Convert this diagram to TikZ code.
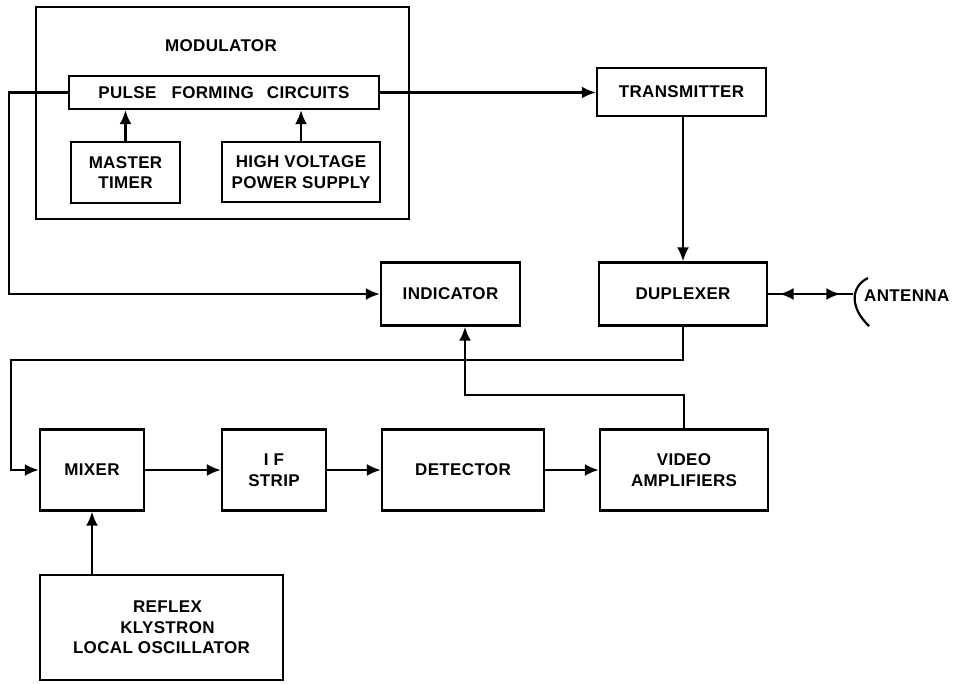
\documentclass[tikz,border=0pt]{standalone}
\usepackage{fontspec}
\setmainfont{Liberation Sans}[LetterSpace=2]
\usetikzlibrary{positioning,arrows.meta,decorations.markings}

\begin{document}
\begin{tikzpicture}[
    x=1pt, y=-1pt,
    font=\bfseries\fontsize{17}{20.5}\selectfont,
    block/.style={
        rectangle,
        draw=black,
        line width=2.4pt,
        align=center,
        inner sep=2pt
    },
    wire/.style={line width=2.2pt, black},
    arrow/.style={-{Latex[length=14pt,width=12pt]}, line width=2.2pt, black}
]
\useasboundingbox (0,0) rectangle (957,683);

\node[block, minimum width=373pt, minimum height=212pt] (Modulator) at (222.5,113) {};
\node (ModLabel) at (221,46) {MODULATOR};
\node[block, minimum width=310pt, minimum height=33pt] (PFC) at (224,92.5) {PULSE\hspace{10pt} FORMING\hspace{8pt} CIRCUITS};
\node[block, minimum width=109pt, minimum height=61pt] (Timer) at (125.5,172.5) {MASTER\\TIMER};
\node[block, minimum width=158pt, minimum height=60pt] (HVSupply) at (301,172) {HIGH VOLTAGE\\POWER SUPPLY};
\node[block, minimum width=169pt, minimum height=48pt] (Transmitter) at (681.5,92) {TRANSMITTER};
\node[block, minimum width=139pt, minimum height=63pt] (Indicator) at (450.5,294) {INDICATOR};
\node[block, minimum width=168pt, minimum height=63pt] (Duplexer) at (683,294) {DUPLEXER};
\node[block, minimum width=104pt, minimum height=81pt] (Mixer) at (92,470) {MIXER};
\node[block, minimum width=104pt, minimum height=81pt] (IFStrip) at (274,470) {I F\\STRIP};
\node[block, minimum width=162pt, minimum height=81pt] (Detector) at (463,470) {DETECTOR};
\node[block, minimum width=168pt, minimum height=81pt] (Video) at (684,470) {VIDEO\\AMPLIFIERS};
\node[block, minimum width=243pt, minimum height=105pt] (Klystron) at (161.5,627.5) {\hspace*{12pt}REFLEX\\\hspace*{12pt}KLYSTRON\\LOCAL OSCILLATOR};
\node[anchor=west, inner sep=0pt] (AntLabel) at (864,296) {ANTENNA};

\coordinate (ant) at (853,294);
\coordinate (rxTurn) at (11,360);
\coordinate (vidTurn) at (465,395);

% modulator
\draw[arrow] (Timer.north) -- (Timer.north |- PFC.south);
\draw[arrow] (HVSupply.north) -- (HVSupply.north |- PFC.south);
\draw[arrow] (PFC.east) -- (PFC.east -| Transmitter.west);
\draw[arrow] (PFC.west) -- ++(-59,0) |- (Indicator.west);

% transmit / receive
\draw[arrow] (Transmitter.south -| Duplexer.north) -- (Duplexer.north);
\draw[wire, postaction={decorate}, decoration={markings,
    mark=at position 0.3 with {\arrow{Latex[length=14pt,width=12pt,reversed]}},
    mark=at position 0.85 with {\arrow{Latex[length=14pt,width=12pt]}}}]
    (Duplexer.east) -- (Duplexer.east -| ant);
\draw[wire] ([shift={(15,-16)}]ant) .. controls ([shift={(-3,-7)}]ant) and ([shift={(-3,14)}]ant) .. ([shift={(16,32)}]ant);
\draw[arrow] (Duplexer.south) |- (rxTurn) |- (Mixer.west);

% receiver chain
\draw[arrow] (Mixer.east) -- (IFStrip.west);
\draw[arrow] (IFStrip.east) -- (Detector.west);
\draw[arrow] (Detector.east) -- (Video.west);
\draw[arrow] (Klystron.north -| Mixer.south) -- (Mixer.south);
\draw[arrow] (Video.north) |- (vidTurn) -- (vidTurn |- Indicator.south);
\end{tikzpicture}
\end{document}
